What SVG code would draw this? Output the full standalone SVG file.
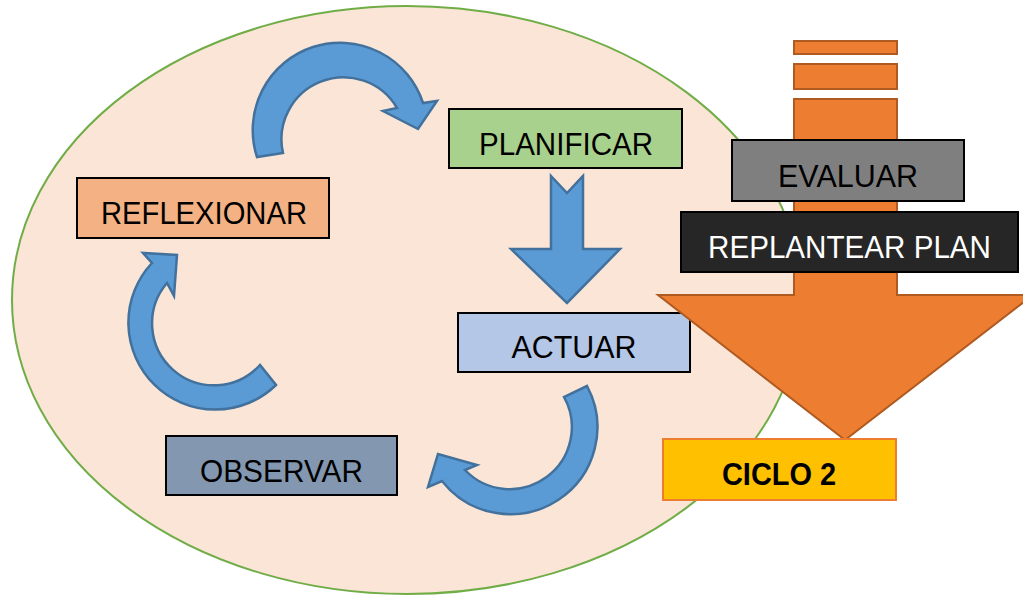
<svg xmlns="http://www.w3.org/2000/svg" width="1023" height="596" viewBox="0 0 1023 596">
<style>
.box{stroke:#000;stroke-width:2}
.t{font-family:"Liberation Sans",Arial,sans-serif;font-size:32px;text-anchor:middle;fill:#000}
.blue{fill:#5B9BD5;stroke:#41719C;stroke-width:2.5;stroke-linejoin:miter}
.org{fill:#ED7D31;stroke:#AE5A21;stroke-width:2}
</style>
<rect width="1023" height="596" fill="#fff"/>
<ellipse id="ciclo" cx="407" cy="300" rx="395" ry="294" fill="#FBE5D6" stroke="#70AD47" stroke-width="2"/>
<g id="planificar"><rect class="box" x="449" y="109" width="233" height="59" fill="#A9D18E"/><text class="t" x="566" y="155" textLength="174" lengthAdjust="spacingAndGlyphs">PLANIFICAR</text></g>
<g id="reflexionar"><rect class="box" x="77" y="178" width="252" height="60" fill="#F4B183"/><text class="t" x="204" y="224" textLength="206" lengthAdjust="spacingAndGlyphs">REFLEXIONAR</text></g>
<g id="actuar"><rect class="box" x="458" y="313" width="232" height="59" fill="#B4C7E7"/><text class="t" x="574" y="358" textLength="125" lengthAdjust="spacingAndGlyphs">ACTUAR</text></g>
<g id="observar"><rect class="box" x="166" y="436" width="231" height="59" fill="#8497B0"/><text class="t" x="281.5" y="482" textLength="163" lengthAdjust="spacingAndGlyphs">OBSERVAR</text></g>
<g id="connectors">
<path class="blue" d="M257,157 A87 87 0 0 1 423,103 L437,101 L418,129 L383,111 L397,108 A62 62 0 0 0 283,153 Z"/>
<path class="blue" d="M551,176 L567,193 L583,176 L583,249 L620,249 L567,303 L511,249 L551,249 Z"/>
<path class="blue" d="M587,386 A87 87 0 0 1 442,481 L428,487 L438,454 L477,465 L465,470 A62 62 0 0 0 564,397 Z"/>
<path class="blue" d="M276,385 A87 87 0 0 1 152,263 L143,253 L177,255 L174,296 L167,283 A62 62 0 0 0 260,365 Z"/>
</g>
<g id="flecha">
<rect class="org" x="794" y="41" width="103" height="13"/>
<rect class="org" x="794" y="64" width="103" height="25"/>
<path class="org" d="M794,99 L897,99 L897,295 L1033,295 L845,440 L658,295 L794,295 Z"/>
</g>
<g id="evaluar"><rect class="box" x="732" y="140" width="232" height="61" fill="#7F7F7F"/><text class="t" x="848" y="187" textLength="140" lengthAdjust="spacingAndGlyphs">EVALUAR</text></g>
<g id="replantear"><rect class="box" x="681" y="212" width="337" height="60" fill="#262626"/><text class="t" x="849.5" y="258" textLength="283" lengthAdjust="spacingAndGlyphs" style="fill:#fff">REPLANTEAR PLAN</text></g>
<g id="ciclo2"><rect x="663" y="439" width="233" height="61" fill="#FFC000" stroke="#ED7D31" stroke-width="2"/><text class="t" x="779" y="485" textLength="114" lengthAdjust="spacingAndGlyphs" style="font-weight:bold">CICLO 2</text></g>
</svg>
